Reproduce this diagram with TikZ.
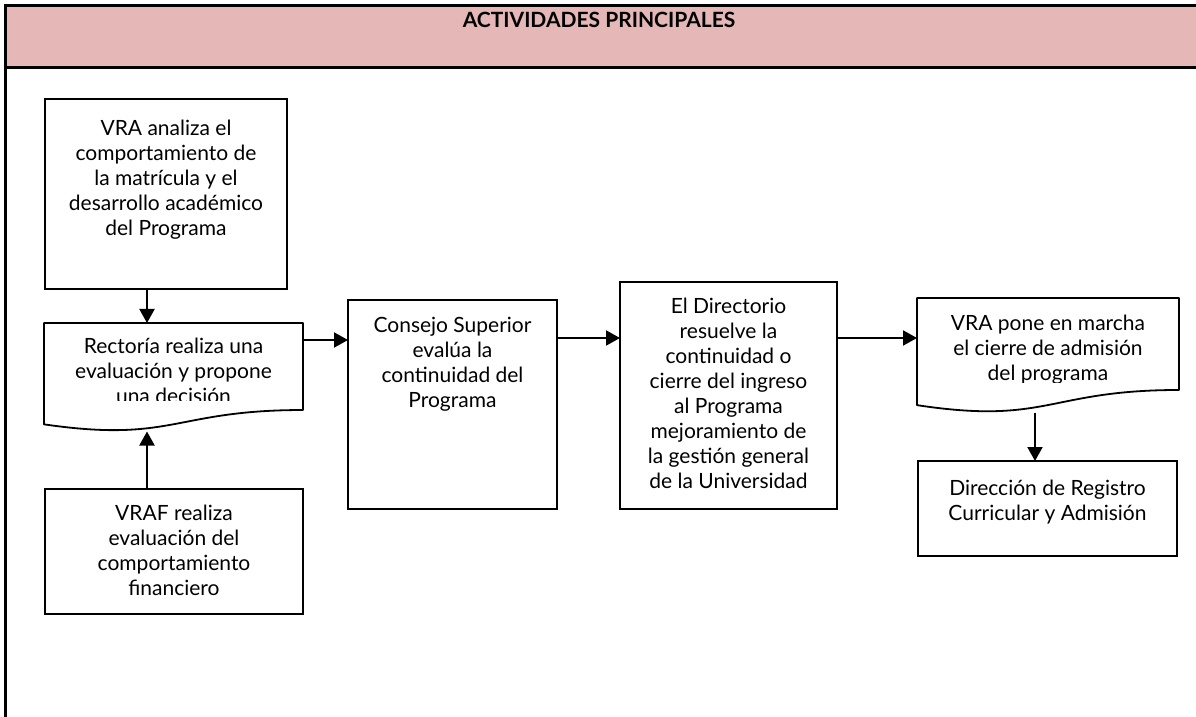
\documentclass[tikz,border=0pt]{standalone}
\usepackage{fontspec}
\setmainfont{Lato}
\usetikzlibrary{arrows.meta, positioning, calc}

\definecolor{headpink}{RGB}{229,183,183}

% flowchart "document" outline drawn round a named node
\newcommand{\docoutline}[1]{%
  \draw[doc] (#1.north west) -- (#1.north east)
    -- ($(#1.north east)!0.802!(#1.south east)$)
    .. controls ($(#1.north)!0.802!(#1.south)$) and ($(#1.north)!1.108!(#1.south)$)
    .. ($(#1.north west)!0.934!(#1.south west)$) -- cycle;}

\begin{document}
\begin{tikzpicture}[
    x=0.5pt, y=-0.5pt,
    font=\fontsize{10.5}{12.5}\selectfont,
    box/.style={draw, line width=0.9pt, inner sep=0pt, outer sep=0pt},
    docnode/.style={inner sep=0pt, outer sep=0pt},
    doc/.style={line width=0.9pt, line join=round},
    txt/.style={align=center, inner sep=0pt},
    arrow/.style={-{Triangle[length=7pt, width=7.5pt]}, line width=1pt},
    rule/.style={line width=1.5pt}
]
  \useasboundingbox (0,0) rectangle (1196,717);

  % table frame and header
  \fill[headpink] (5,6) rectangle (1196,68);
  \draw[rule] (1196,6) -- (5,6) -- (5,717);
  \draw[rule] (5,68) -- (1196,68);
  \node[anchor=base, font=\fontsize{10.5}{12.5}\selectfont\bfseries] (title) at (599,28) {ACTIVIDADES PRINCIPALES};

  % boxes
  \node[box, minimum width=121pt, minimum height=95pt] (vra) at (166,194) {};
  \node[txt, below=10.5pt of vra.north] (vraTxt) {VRA analiza el\\comportamiento de\\la matrícula y el\\desarrollo académico\\del Programa};

  \node[docnode, minimum width=129.5pt, minimum height=54.25pt] (rect) at (173.5,377.25) {};
  \docoutline{rect}
  \begin{scope}
    \clip (rect.north west) rectangle ($(rect.north east)+(0,-38.5pt)$);
    \node[txt, below=7.5pt of rect.north] (rectTxt) {Rectoría realiza una\\evaluación y propone\\una decisión};
  \end{scope}

  \node[box, minimum width=129pt, minimum height=62.5pt] (vraf) at (174,551.5) {};
  \node[txt, below=8pt of vraf.north] (vrafTxt) {VRAF realiza\\evaluación del\\comportamiento\\financiero};

  \node[box, minimum width=104.5pt, minimum height=104.5pt] (consejo) at (452.5,404.5) {};
  \node[txt, below=8.5pt of consejo.north] (consejoTxt) {Consejo Superior\\evalúa la\\continuidad del\\Programa};

  \node[box, minimum width=108.5pt, minimum height=113.5pt] (dir) at (728.5,395.5) {};
  \node[txt, below=8pt of dir.north] (dirTxt) {El Directorio\\resuelve la\\continuidad o\\cierre del ingreso\\al Programa\\mejoramiento de\\la gestión general\\de la Universidad};

  \node[docnode, minimum width=131pt, minimum height=57.35pt] (cierre) at (1048,355.35) {};
  \docoutline{cierre}
  \begin{scope}
    \clip (cierre.north west) rectangle ($(cierre.north east)+(0,-42pt)$);
    \node[txt, below=8.5pt of cierre.north] (cierreTxt) {VRA pone en marcha\\el cierre de admisión\\del programa};
  \end{scope}

  \node[box, minimum width=129.5pt, minimum height=47.5pt] (registro) at (1047.5,508.5) {};
  \node[txt, below=9.5pt of registro.north] (registroTxt) {Dirección de Registro\\Curricular y Admisión};

  % connectors
  \draw[arrow] ([xshift=-9.5pt]vra.south) -- ([xshift=-9.5pt]vra.south |- rect.north);
  \draw[arrow] ([xshift=-13.5pt]vraf.north) -- ([xshift=-13.5pt]vraf.north |- rect.south);
  \draw[arrow] ($(rect.north east)+(0,-8.5pt)$) -- ($(rect.north east -| consejo.west)+(0,-8.5pt)$);
  \draw[arrow] ($(consejo.north east)+(0,-19pt)$) -- ($(consejo.north east -| dir.west)+(0,-19pt)$);
  \draw[arrow] ($(dir.north east)+(0,-28pt)$) -- ($(dir.north east -| cierre.west)+(0,-28pt)$);
  \draw[arrow] ([xshift=-6.5pt]cierre.south) -- ([xshift=-6.5pt]cierre.south |- registro.north);
\end{tikzpicture}
\end{document}
